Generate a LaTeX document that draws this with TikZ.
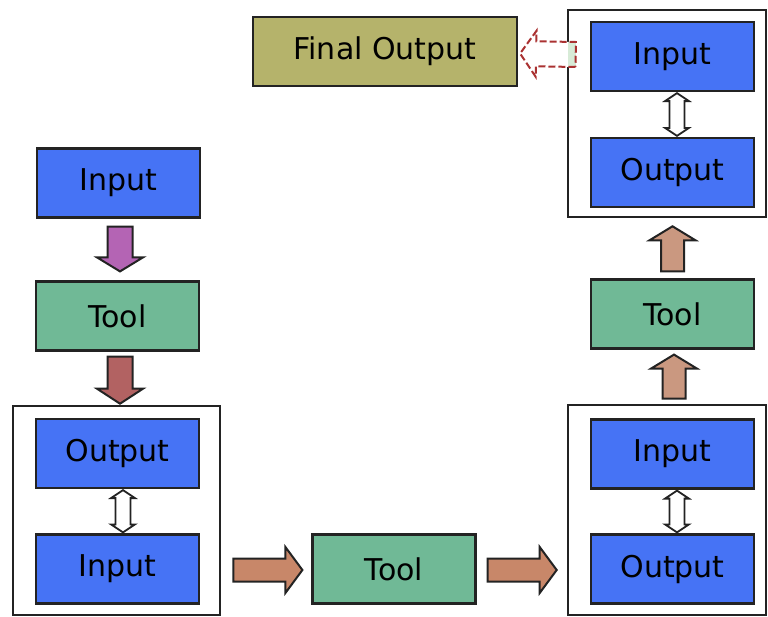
\documentclass[tikz,border=0pt]{standalone}
\usepackage{fontspec}
\setmainfont{DejaVu Sans}
\usetikzlibrary{calc}
\definecolor{boxblue}{RGB}{70,115,245}
\definecolor{toolgreen}{RGB}{112,185,150}
\definecolor{olive}{RGB}{181,179,107}
\definecolor{arpurple}{RGB}{180,100,180}
\definecolor{arred}{RGB}{178,98,98}
\definecolor{arorange}{RGB}{200,135,105}
\definecolor{arlight}{RGB}{202,152,128}
\definecolor{edge}{RGB}{35,35,35}
\definecolor{dashred}{RGB}{170,50,50}
\definecolor{palegreen}{RGB}{215,235,215}
\newcommand\blockarr[6]{%
  \coordinate (bA) at #2; \coordinate (bB) at #3;
  \coordinate (bC) at ($(bB)!#6!(bA)$);
  \draw[#1] ($(bA)!#4!90:(bB)$) -- ($(bC)!#4!-90:(bA)$) -- ($(bC)!#5!-90:(bA)$) -- (bB)
    -- ($(bC)!#5!90:(bA)$) -- ($(bC)!#4!90:(bA)$) -- ($(bA)!#4!-90:(bB)$) -- cycle;}
\newcommand\dblarr[6]{%
  \coordinate (bA) at #2; \coordinate (bB) at #3;
  \coordinate (bP) at ($(bA)!#6!(bB)$); \coordinate (bQ) at ($(bB)!#6!(bA)$);
  \draw[#1] (bA) -- ($(bP)!#5!90:(bB)$) -- ($(bP)!#4!90:(bB)$) -- ($(bQ)!#4!-90:(bA)$)
    -- ($(bQ)!#5!-90:(bA)$) -- (bB) -- ($(bQ)!#5!90:(bA)$) -- ($(bQ)!#4!90:(bA)$)
    -- ($(bP)!#4!-90:(bB)$) -- ($(bP)!#5!-90:(bB)$) -- cycle;}
\tikzset{
  box/.style={draw=edge, line width=2.2pt, minimum width=163pt, minimum height=69pt,
    inner sep=0pt, font=\fontsize{30}{36}\selectfont},
  iobox/.style={box, fill=boxblue},
  toolbox/.style={box, fill=toolgreen},
  finalbox/.style={box, fill=olive, minimum width=264pt},
  container/.style={draw=edge, line width=2.6pt, fill=white, inner sep=0pt},
  arrowline/.style={draw=edge, line width=2pt, line join=miter},
  dblstyle/.style={arrowline, fill=white, line width=1.8pt},
}
\begin{document}
\begin{tikzpicture}[x=1pt, y=-1pt]
\useasboundingbox (0,0) rectangle (768,616);
% containers
\node[container, minimum width=207pt, minimum height=209pt] (c0) at (116.5,510.5) {};
\node[container, minimum width=198pt, minimum height=207pt] (c1) at (667,113.5) {};
\node[container, minimum width=198pt, minimum height=210pt] (c2) at (667,510) {};
% boxes
\node[finalbox] (fo) at (385,51.5) {Final Output};
\node[iobox] (in1) at (118.5,183) {Input};
\node[toolbox] (tool1) at (117.5,316) {Tool};
\node[iobox] (out1) at (117.5,453.5) {Output};
\node[iobox] (in2) at (117.5,569) {Input};
\node[toolbox] (tool2) at (394,569) {Tool};
\node[iobox] (in3) at (672.5,454) {Input};
\node[iobox] (out3) at (672.5,569) {Output};
\node[toolbox] (tool3) at (672.5,314) {Tool};
\node[iobox] (in4) at (672.5,56.5) {Input};
\node[iobox] (out4) at (672.5,172.5) {Output};
% block arrows
\blockarr{arrowline, fill=arpurple}{($(in1.south)+(1.5,8)$)}{($(tool1.north)+(2.5,-9)$)}{12.5pt}{23pt}{14pt}
\blockarr{arrowline, fill=arred}{($(tool1.south)+(2.5,5)$)}{($(tool1.south |- c0.north)+(2.5,-1)$)}{12.5pt}{23pt}{15pt}
\blockarr{arrowline, fill=arorange}{($(c0.east |- in2.east)+(12,1)$)}{($(tool2.west)+(-9,1)$)}{11.5pt}{23pt}{17pt}
\blockarr{arrowline, fill=arorange}{($(tool2.east)+(11,1)$)}{($(c2.west |- tool2.east)+(-10,1)$)}{11.5pt}{23pt}{17pt}
\blockarr{arrowline, fill=arlight}{($(tool3.south |- c2.north)+(1.5,-5)$)}{($(tool3.south)+(1.5,5)$)}{11.5pt}{23pt}{14pt}
\blockarr{arrowline, fill=arlight}{($(tool3.north)+(0,-7)$)}{($(tool3.north |- c1.south)+(0,8)$)}{11.5pt}{23pt}{14pt}
% double arrows
\dblarr{dblstyle}{($(out1.south)+(5.5,1)$)}{($(in2.north)+(5.5,-1)$)}{7.5pt}{12pt}{8pt}
\dblarr{dblstyle}{($(in4.south)+(4.5,1)$)}{($(out4.north)+(4.5,-1)$)}{7.5pt}{12pt}{8pt}
\dblarr{dblstyle}{($(in3.south)+(4.5,1)$)}{($(out3.north)+(4.5,-1)$)}{7.5pt}{12pt}{8pt}
% dashed arrow to final output
\blockarr{fill=white, draw=none}{($(c1.west |- fo.east)+(9,3)$)}{($(fo.east)+(2,2)$)}{12.5pt}{23pt}{16pt}
\fill[palegreen] ($(c1.west |- fo.east)+(1,-9.5)$) rectangle ($(c1.west |- fo.east)+(9,15.5)$);
\blockarr{draw=dashred, line width=2pt, dash pattern=on 7pt off 3pt}{($(c1.west |- fo.east)+(9,3)$)}{($(fo.east)+(2,2)$)}{12.5pt}{23pt}{16pt}
\end{tikzpicture}
\end{document}
